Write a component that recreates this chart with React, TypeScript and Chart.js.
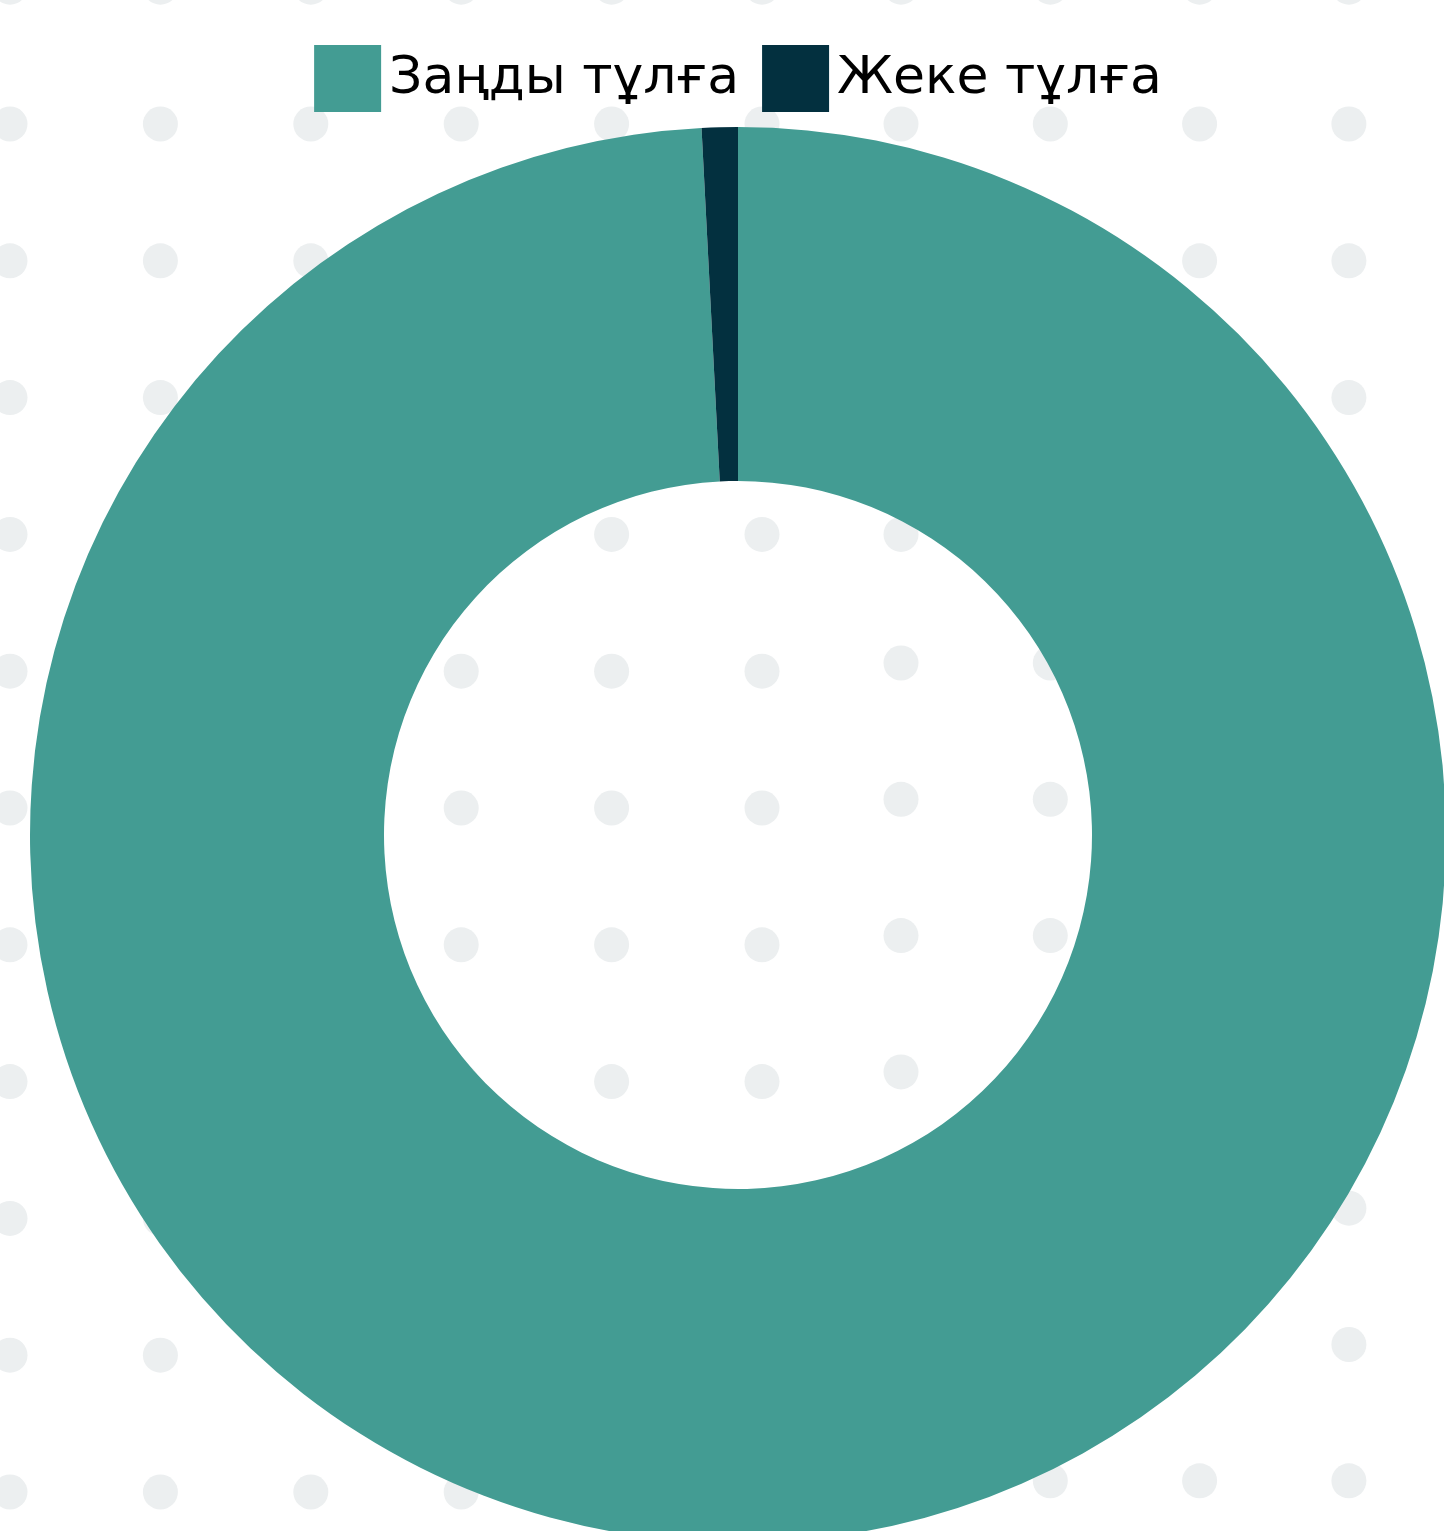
import React, { useEffect, useRef } from "react";
import { Chart, registerables } from "chart.js";

Chart.register(...registerables);

const categories = ["Заңды тұлға", "Жеке тұлға"];
const shareValues = [99.18, 0.82];
const sliceColors = ["#439C93", "#03303F"];

const LEGEND_FONT = '"DejaVu Sans", sans-serif';
const LEGEND_SIZE = 52;

const dotBackground = {
  id: "dotBackground",
  beforeDraw(chart: any) {
    const ctx = chart.ctx;
    ctx.save();
    ctx.fillStyle = "#ffffff";
    ctx.fillRect(0, 0, chart.width, chart.height);
    ctx.fillStyle = "#ECEFF0";
    const rad = 17.5;
    const dot = (x: number, y: number) => {
      ctx.beginPath();
      ctx.arc(x, y, rad, 0, Math.PI * 2);
      ctx.fill();
    };
    // left block of the pattern
    for (let c = 0; c < 6; c++) {
      for (let r = -1; r <= 10; r++) {
        dot(10 + c * 150.4, 124 + r * 136.8);
      }
    }
    // right block of the pattern (rows shift slightly lower down)
    for (let c = 0; c < 4; c++) {
      for (let r = -1; r <= 10; r++) {
        const y = r <= 3 ? 124 + r * 136.8 : 663 + (r - 4) * 136.3;
        dot(901 + c * 149.3, y);
      }
    }
    ctx.restore();
  },
};

const topLegend = {
  id: "topLegend",
  afterDraw(chart: any) {
    const ctx = chart.ctx;
    const labels: string[] = chart.data.labels;
    const colors: string[] = chart.data.datasets[0].backgroundColor;
    const box = 67;
    const gapText = 8;
    const gapItem = 23;
    ctx.save();
    ctx.font = `${LEGEND_SIZE}px ${LEGEND_FONT}`;
    const widths = labels.map((l) => ctx.measureText(l).width);
    const total =
      widths.reduce((s, w) => s + box + gapText + w, 0) + gapItem * (labels.length - 1);
    let x = (chart.width - total) / 2;
    const boxTop = 45;
    labels.forEach((l, i) => {
      ctx.fillStyle = colors[i];
      ctx.fillRect(x, boxTop, box, box);
      x += box + gapText;
      ctx.fillStyle = "#000000";
      ctx.textBaseline = "alphabetic";
      ctx.textAlign = "left";
      ctx.fillText(l, x, 93);
      x += widths[i] + gapItem;
    });
    ctx.restore();
  },
};

export default function App() {
  const ref = useRef<HTMLCanvasElement>(null);
  useEffect(() => {
    const chart = new Chart(ref.current as HTMLCanvasElement, {
      type: "doughnut",
      data: {
        labels: categories,
        datasets: [
          {
            data: shareValues,
            backgroundColor: sliceColors,
            borderWidth: 0,
          },
        ],
      },
      options: {
        responsive: true,
        maintainAspectRatio: false,
        animation: false,
        devicePixelRatio: 1,
        cutout: "50%",
        layout: { padding: { top: 127, left: 0, right: 0, bottom: 0 } },
        plugins: {
          legend: { display: false },
          tooltip: { enabled: false },
        },
      },
      plugins: [dotBackground, topLegend],
    } as any);
    return () => chart.destroy();
  }, []);
  return (
    <div
      style={{
        position: "fixed",
        left: 0,
        top: 0,
        width: 1444,
        height: 1531,
        overflow: "hidden",
        background: "#fff",
      }}
    >
      <div style={{ position: "absolute", left: 0, top: 0, width: 1476, height: 1543 }}>
        <canvas ref={ref} />
      </div>
    </div>
  );
}
